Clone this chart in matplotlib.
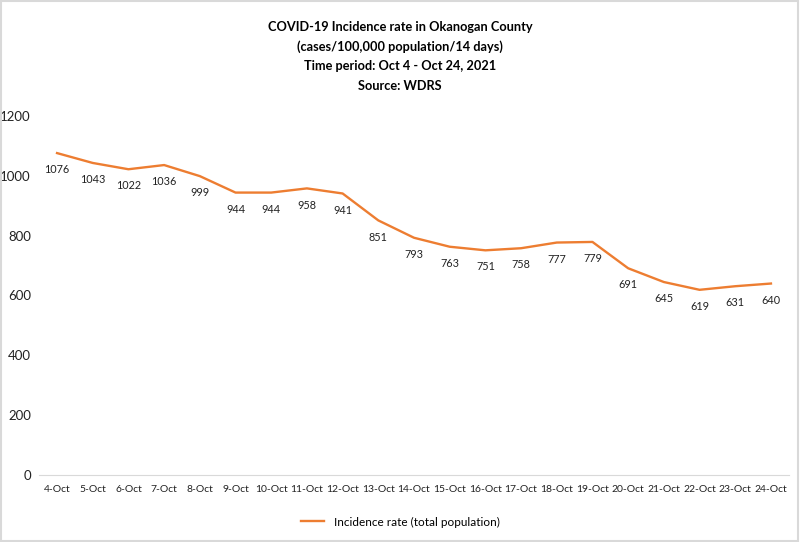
import numpy as np
import matplotlib.pyplot as plt
from matplotlib.patches import Rectangle

plt.rcParams['font.family'] = ['Lato', 'DejaVu Sans']

dates = ['4-Oct', '5-Oct', '6-Oct', '7-Oct', '8-Oct', '9-Oct', '10-Oct', '11-Oct',
         '12-Oct', '13-Oct', '14-Oct', '15-Oct', '16-Oct', '17-Oct', '18-Oct',
         '19-Oct', '20-Oct', '21-Oct', '22-Oct', '23-Oct', '24-Oct']
rate = [1076, 1043, 1022, 1036, 999, 944, 944, 958, 941, 851, 793, 763, 751, 758,
        777, 779, 691, 645, 619, 631, 640]

title_lines = ['COVID-19 Incidence rate in Okanogan County',
               '(cases/100,000 population/14 days)',
               'Time period: Oct 4 - Oct 24, 2021',
               'Source: WDRS']

orange = '#ED7D31'

fig = plt.figure(figsize=(8, 5.42), dpi=100)
ax = fig.add_axes([0.049, 0.1236, 0.937, 0.6624])

x = np.arange(len(dates))
ax.plot(x, rate, color=orange, linewidth=1.7, label='Incidence rate (total population)')
for xi, v in zip(x, rate):
    ax.annotate(str(v), (xi, v), xytext=(0, -8), textcoords='offset points',
                ha='center', va='top', fontsize=7.8, color='#222222')

ax.set_xlim(-0.5, len(dates) - 0.5)
ax.set_ylim(0, 1200)
ax.set_yticks(range(0, 1201, 200))
ax.set_xticks(x)
ax.set_xticklabels(dates, fontsize=7.5, color='#222222')
ax.tick_params(axis='y', labelsize=9.5, colors='#222222', length=0, pad=6)
ax.tick_params(axis='x', length=0, pad=7)
for s in ['top', 'right', 'left']:
    ax.spines[s].set_visible(False)
ax.spines['bottom'].set_color('#d9d9d9')

# title, one line at a time
for i, line in enumerate(title_lines):
    fig.text(0.5, 1 - (27 + 19.7 * i) / 542, line, ha='center', va='center',
             fontsize=9.2, fontweight='bold')

fig.legend(loc='center', bbox_to_anchor=(0.5, 1 - 522 / 542), frameon=False, fontsize=8.5,
           handlelength=2.0)

fig.patches.append(Rectangle((0.001, 0.001), 0.997, 0.997, transform=fig.transFigure,
                             fill=False, edgecolor='#d9d9d9', linewidth=1.5))

fig.savefig('out.png', dpi=100)
